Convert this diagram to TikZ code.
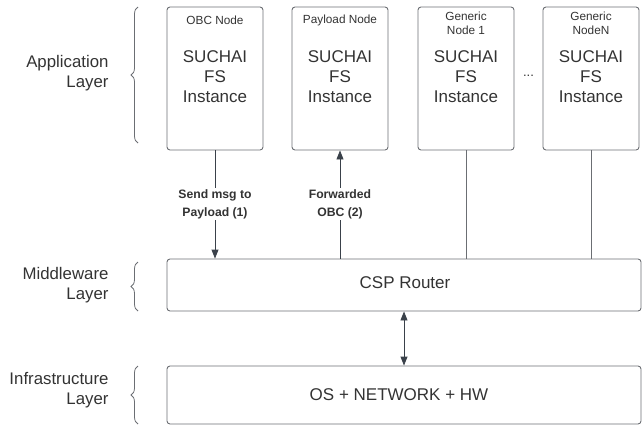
\documentclass[tikz,border=0pt]{standalone}
\usepackage{fontspec}
\setmainfont{Liberation Sans}
\usetikzlibrary{arrows.meta,decorations.pathreplacing}
\definecolor{linegray}{HTML}{6B6E73}
\definecolor{textgray}{HTML}{333333}
\definecolor{arrowdark}{HTML}{3A414A}
\tikzset{
  nodebox/.style={draw=linegray, line width=0.9pt, rounded corners=3pt, minimum width=96pt, minimum height=143pt},
  layerbox/.style={draw=linegray, line width=0.9pt, rounded corners=3pt, minimum width=474pt},
  bigtext/.style={text=textgray, align=center, font=\fontsize{17}{20}\selectfont},
  smalltext/.style={text=textgray, align=center, font=\fontsize{11.8}{14}\selectfont},
  msgtext/.style={text=textgray, align=center, font=\fontsize{12.2}{18}\selectfont\bfseries, fill=white, inner sep=1pt},
  layertext/.style={text=textgray, align=right, anchor=east, font=\fontsize{16.8}{20}\selectfont},
  conn/.style={draw=linegray, line width=0.9pt},
  msgarrow/.style={draw=arrowdark, line width=0.9pt, -{Triangle[length=9pt,width=7pt]}},
  layerbrace/.style={draw=linegray, line width=0.8pt, decorate, decoration={brace, amplitude=7pt}}
}
\begin{document}
\begin{tikzpicture}[x=1pt, y=-1pt]
\useasboundingbox (0,0) rectangle (644,426);
% application layer
\node[nodebox] (obc) at (215,78.5) {};
\node[nodebox] (pay) at (340,78.5) {};
\node[nodebox] (gen1) at (466,78.5) {};
\node[nodebox] (genn) at (591,78.5) {};
\node[smalltext] (obct) at (215,20) {OBC Node};
\node[smalltext] (payt) at (340,20) {Payload Node};
\node[smalltext] (gen1t) at (466,23) {Generic\\Node 1};
\node[smalltext] (gennt) at (591,23) {Generic\\NodeN};
\node[bigtext] (obcs) at (215,77) {SUCHAI\\FS\\Instance};
\node[bigtext] (pays) at (340,77) {SUCHAI\\FS\\Instance};
\node[bigtext] (gen1s) at (466,77) {SUCHAI\\FS\\Instance};
\node[bigtext] (genns) at (591,77) {SUCHAI\\FS\\Instance};
\node[smalltext, font=\fontsize{13}{14}\selectfont] (dots) at (528.5,76) {...};
% middleware and infrastructure
\node[layerbox, minimum height=52pt] (router) at (404,285) {};
\node[bigtext] (routert) at (405,283) {CSP Router};
\node[layerbox, minimum height=58pt] (infra) at (404,395) {};
\node[bigtext] (infrat) at (399,395) {OS + NETWORK + HW};
% connections
\draw[msgarrow] (obc.south) -- (obc.south |- router.north);
\draw[msgarrow] (pay.south |- router.north) -- (pay.south);
\draw[conn] (gen1.south) -- (gen1.south |- router.north);
\draw[conn] (genn.south) -- (genn.south |- router.north);
\node[msgtext] (sendmsg) at (215,204) {Send msg to\\Payload (1)};
\node[msgtext] (fwd) at (340,204) {Forwarded\\OBC (2)};
\draw[draw=arrowdark, line width=0.9pt, {Triangle[length=9pt,width=7pt]}-{Triangle[length=9pt,width=7pt]}] (router.south) -- (infra.north);
% layer labels
\draw[layerbrace] (138,143) -- (138,7);
\draw[layerbrace] (138,311) -- (138,262);
\draw[layerbrace] (138,424) -- (138,366);
\node[layertext] (applbl) at (112,73) {Application\\Layer};
\node[layertext] (midlbl) at (112,285) {Middleware\\Layer};
\node[layertext] (inflbl) at (112,390) {Infrastructure\\Layer};
\end{tikzpicture}
\end{document}
